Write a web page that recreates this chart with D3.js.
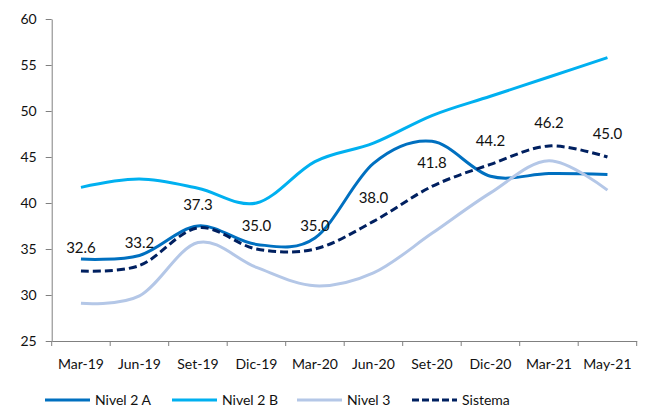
<html>
<head>
<script src="https://d3js.org/d3.v7.min.js"></script>
<style>
  body { margin: 0; background: #fff; }
  text { font-family: Lato, "Open Sans", sans-serif; fill: #111; }
</style>
</head>
<body>
<svg width=645 height=412></svg>
<script>
const months = ["Mar-19","Jun-19","Set-19","Dic-19","Mar-20","Jun-20","Set-20","Dic-20","Mar-21","May-21"];
const nivel2A = [33.9, 34.3, 37.5, 35.5, 36.2, 44.3, 46.7, 42.9, 43.2, 43.1];
const nivel2B = [41.7, 42.6, 41.6, 40.0, 44.5, 46.5, 49.5, 51.6, 53.7, 55.8];
const nivel3  = [29.1, 29.9, 35.7, 33.0, 31.0, 32.4, 36.7, 41.1, 44.6, 41.4];
const sistema = [32.6, 33.2, 37.3, 35.0, 35.0, 38.0, 41.8, 44.2, 46.2, 45.0];
const yTicks = [25, 30, 35, 40, 45, 50, 55, 60];

const series = [
  {name: "Nivel 2 A", values: nivel2A, color: "#0070C0", dash: null},
  {name: "Nivel 2 B", values: nivel2B, color: "#00B0F0", dash: null},
  {name: "Nivel 3",   values: nivel3,  color: "#B4C7E7", dash: null},
  {name: "Sistema",   values: sistema, color: "#002060", dash: "8,4"}
];

const svg = d3.select("svg");
const mLeft = 51.7, mRight = 636.7, mTop = 19, mBottom = 341;

var x = d3.scaleBand().domain(months).range([mLeft, mRight]);
var y = d3.scaleLinear().domain([25, 60]).range([mBottom, mTop]);

// y axis
var yAx = svg.append("g")
  .attr("transform", "translate(" + mLeft + ",0)")
  .call(d3.axisLeft(y).tickValues(yTicks).tickSize(6).tickSizeOuter(0));
yAx.select(".domain").attr("stroke", "#808080");
yAx.selectAll(".tick line").attr("stroke", "#808080");
yAx.selectAll(".tick text").attr("x", -15).style("font-size", "14px").style("fill", "#111");

// x axis
var xAx = svg.append("g")
  .attr("transform", "translate(0," + mBottom + ")")
  .call(d3.axisBottom(x).tickSize(0).tickSizeOuter(0));
xAx.select(".domain").attr("stroke", "#808080");
xAx.selectAll(".tick text").attr("y", 18).style("font-size", "14px").style("fill", "#111");

var bounds = months.map(function(m) { return x(m); }).concat([mRight]);
svg.append("g").selectAll("line")
  .data(bounds)
  .enter()
  .append("line")
    .attr("x1", function(d) { return d; })
    .attr("x2", function(d) { return d; })
    .attr("y1", mBottom)
    .attr("y2", mBottom + 5)
    .attr("stroke", "#808080");

var line = d3.line()
  .x(function(d, i) { return x(months[i]) + x.bandwidth() / 2; })
  .y(function(d) { return y(d); })
  .curve(d3.curveCardinal.tension(0));

svg.append("g").selectAll("path")
  .data(series)
  .enter()
  .append("path")
    .attr("d", function(d) { return line(d.values); })
    .attr("fill", "none")
    .attr("stroke", function(d) { return d.color; })
    .attr("stroke-width", 3)
    .attr("stroke-dasharray", function(d) { return d.dash; });

// data labels on Sistema
svg.append("g").selectAll("text")
  .data(sistema)
  .enter()
  .append("text")
    .attr("x", function(d, i) { return x(months[i]) + x.bandwidth() / 2; })
    .attr("y", function(d) { return y(d) - 18; })
    .attr("text-anchor", "middle")
    .style("font-size", "15px")
    .text(function(d) { return d3.format(".1f")(d); });

// legend
var legX = [45, 172, 297, 412];
var leg = svg.append("g").selectAll("g")
  .data(series)
  .enter()
  .append("g")
    .attr("transform", function(d, i) { return "translate(" + legX[i] + ",400)"; });
leg.append("line")
  .attr("x1", 0).attr("x2", 45)
  .attr("stroke", function(d) { return d.color; })
  .attr("stroke-width", 3)
  .attr("stroke-dasharray", function(d) { return d.dash ? "7,3" : null; });
leg.append("text")
  .attr("x", 50)
  .attr("y", 5)
  .style("font-size", "14px")
  .text(function(d) { return d.name; });
</script>
</body>
</html>
